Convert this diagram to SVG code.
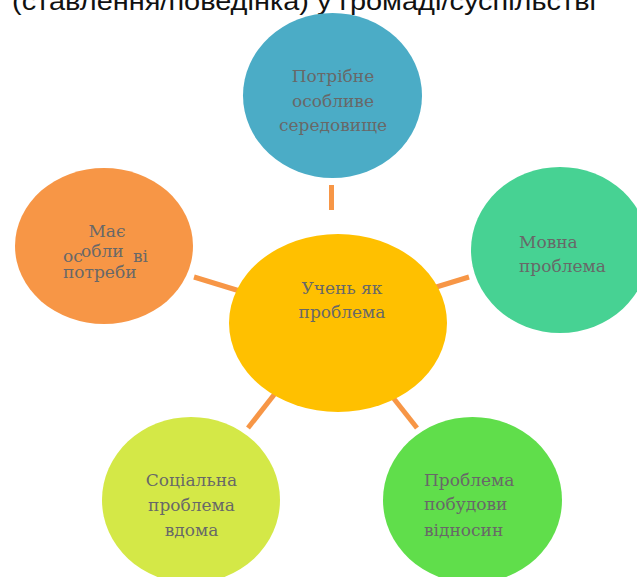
<svg xmlns="http://www.w3.org/2000/svg" width="637" height="577" viewBox="0 0 637 577">
<style>
.lbl{font-family:"DejaVu Serif","Liberation Serif",serif;font-size:17px;fill:#686868}
.c{text-anchor:middle}
.title{font-family:"Liberation Sans",Arial,sans-serif;font-size:26px;fill:#111}
.con{stroke:#F79646;stroke-width:5;fill:none}
</style>
<rect width="637" height="577" fill="#fff"/>
<text class="title" x="12" y="10" textLength="584" lengthAdjust="spacingAndGlyphs">(ставлення/поведінка) у громаді/суспільстві</text>
<g id="connectors">
<line class="con" x1="331.5" y1="185" x2="331.5" y2="210"/>
<line class="con" x1="194" y1="277" x2="243" y2="292"/>
<line class="con" x1="420" y1="292" x2="469" y2="277"/>
<line class="con" x1="277" y1="391" x2="248" y2="428"/>
<line class="con" x1="387" y1="390" x2="417" y2="428"/>
</g>
<g id="n-top">
<ellipse cx="332.5" cy="95.5" rx="89.5" ry="82.5" fill="#4BACC6"/>
<text class="lbl c" x="333" y="82">Потрібне</text>
<text class="lbl c" x="333" y="107">особливе</text>
<text class="lbl c" x="333" y="131">середовище</text>
</g>
<g id="n-left">
<ellipse cx="104" cy="246" rx="89" ry="78" fill="#F79646"/>
<text class="lbl c" x="107" y="237">Має</text>
<text class="lbl" x="63" y="262">ос</text>
<text class="lbl" x="81" y="257">обли</text>
<text class="lbl" x="133" y="262">ві</text>
<text class="lbl" x="63" y="278">потреби</text>
</g>
<g id="n-center">
<ellipse cx="338" cy="323" rx="109" ry="89" fill="#FFC000"/>
<text class="lbl c" x="342" y="294">Учень як</text>
<text class="lbl c" x="342" y="318">проблема</text>
</g>
<g id="n-right">
<ellipse cx="560" cy="250" rx="89" ry="83" fill="#47D293"/>
<text class="lbl" x="519" y="248">Мовна</text>
<text class="lbl" x="519" y="272">проблема</text>
</g>
<g id="n-bottom-left">
<ellipse cx="191" cy="500" rx="89" ry="83" fill="#D4E847"/>
<text class="lbl c" x="191.5" y="486">Соціальна</text>
<text class="lbl c" x="191.5" y="511">проблема</text>
<text class="lbl c" x="191.5" y="536">вдома</text>
</g>
<g id="n-bottom-right">
<ellipse cx="472.5" cy="500" rx="89.5" ry="83" fill="#60DE4B"/>
<text class="lbl" x="424" y="486">Проблема</text>
<text class="lbl" x="424" y="510">побудови</text>
<text class="lbl" x="424" y="536">відносин</text>
</g>
</svg>
